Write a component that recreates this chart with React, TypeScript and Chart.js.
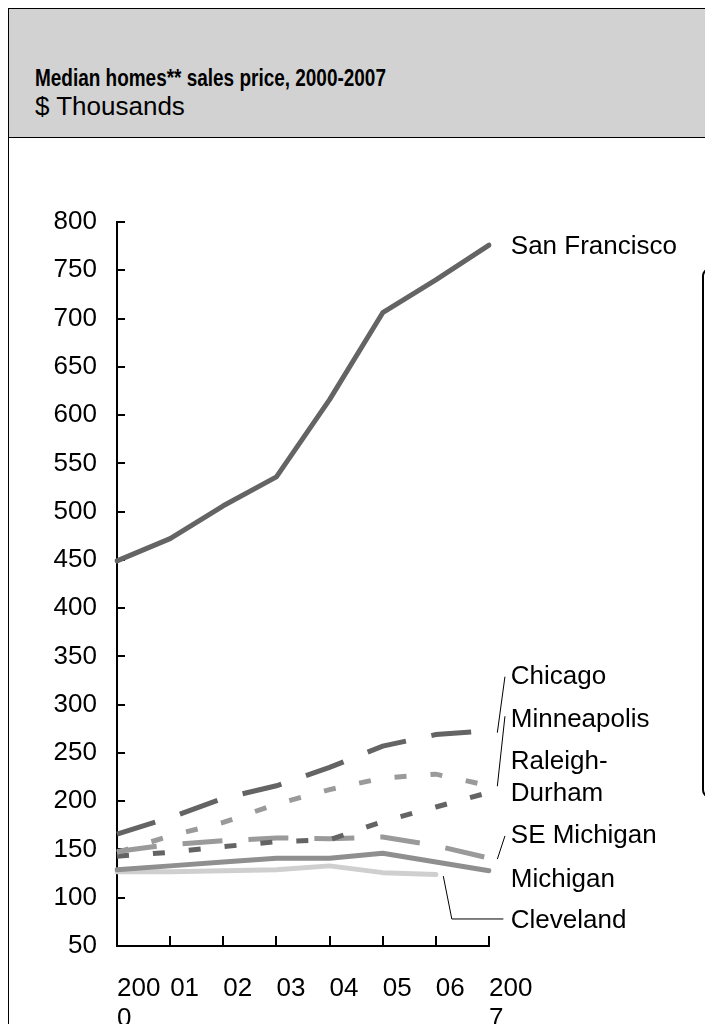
import React, { useEffect, useRef } from "react";
import { Chart, registerables } from "chart.js";

Chart.register(...registerables);

const FONT = '"Liberation Sans", Arial, Helvetica, sans-serif';

// ---- data ----
const years = ["2000", "2001", "2002", "2003", "2004", "2005", "2006", "2007"];
const xTickLabels: (string | string[])[] = [["200", "0"], "01", "02", "03", "04", "05", "06", ["200", "7"]];
const yMin = 50;
const yMax = 800;
const yStep = 50;

const sanFrancisco = [449, 472, 506, 536, 616, 706, 740, 776];
const chicago = [166, 183, 203, 216, 235, 257, 269, 273];
const minneapolis = [147, 164, 178, 197, 212, 224, 228, 216];
const raleighDurham = [143, 147, 153, 158, 160, 179, 194, 209];
const seMichigan = [148, 155, 159, 162, 161, 163, 154, 141];
const michigan = [129, 133, 137, 141, 141, 146, 137, 128];
const cleveland = [127, 127, 128, 129, 133, 126, 124, null];

// ---- annotations (label text and anchor values in data units) ----
const labelXIndex = 7.41;
const seriesLabels = [
  { text: ["San Francisco"], value: 774 },
  { text: ["Chicago"], value: 329 },
  { text: ["Minneapolis"], value: 284.5 },
  { text: ["Raleigh-", "Durham"], value: 224 },
  { text: ["SE Michigan"], value: 164 },
  { text: ["Michigan"], value: 119 },
  { text: ["Cleveland"], value: 76 },
];
const leaderLines: number[][][] = [
  [[7.3, 329], [7.157, 271]],
  [[7.3, 288], [7.157, 215.5]],
  [[7.3, 164], [7.157, 140]],
  [[6.14, 122.4], [6.3, 78], [7.27, 78]],
];

const labelsPlugin = {
  id: "seriesLabels",
  afterDraw(chart: any) {
    const { ctx } = chart;
    const x = chart.scales.x;
    const y = chart.scales.y;
    ctx.save();
    ctx.font = `26px ${FONT}`;
    ctx.fillStyle = "#000";
    ctx.textBaseline = "middle";
    ctx.textAlign = "left";
    const lx = x.getPixelForValue(labelXIndex);
    const lh = 32;
    seriesLabels.forEach((l) => {
      const cy = y.getPixelForValue(l.value);
      l.text.forEach((t, i) => {
        ctx.fillText(t, lx, cy + (i - (l.text.length - 1) / 2) * lh);
      });
    });
    ctx.strokeStyle = "#000";
    ctx.lineWidth = 1;
    leaderLines.forEach((pts) => {
      ctx.beginPath();
      pts.forEach(([xi, v], i) => {
        const px = x.getPixelForValue(xi);
        const py = y.getPixelForValue(v);
        if (i === 0) ctx.moveTo(px, py);
        else ctx.lineTo(px, py);
      });
      ctx.stroke();
    });
    ctx.restore();
  },
};

const DARK = "#646464";
const MID = "#9a9a9a";
const MICH = "#8f8f8f";
const LIGHT = "#cfcfcf";
const LONG_DASH = [40, 26];
const SHORT_DASH = [12, 24];

export default function App() {
  const ref = useRef<HTMLCanvasElement>(null);

  useEffect(() => {
    document.documentElement.style.overflow = "hidden";
    const base = { pointRadius: 0, borderWidth: 5, tension: 0, fill: false };
    const chart = new Chart(ref.current as HTMLCanvasElement, {
      type: "line",
      data: {
        labels: years,
        datasets: [
          { ...base, label: "San Francisco", data: sanFrancisco, borderColor: DARK, borderCapStyle: "round", borderJoinStyle: "round" },
          { ...base, label: "Chicago", data: chicago, borderColor: DARK, borderDash: LONG_DASH, borderCapStyle: "butt" },
          { ...base, label: "Minneapolis", data: minneapolis, borderColor: MID, borderDash: SHORT_DASH, borderCapStyle: "butt" },
          { ...base, label: "Raleigh-Durham", data: raleighDurham, borderColor: DARK, borderDash: SHORT_DASH, borderCapStyle: "butt" },
          { ...base, label: "SE Michigan", data: seMichigan, borderColor: MID, borderDash: LONG_DASH, borderCapStyle: "butt" },
          { ...base, label: "Michigan", data: michigan, borderColor: MICH, borderCapStyle: "round", borderJoinStyle: "round" },
          { ...base, label: "Cleveland", data: cleveland, borderColor: LIGHT, borderCapStyle: "round", borderJoinStyle: "round" },
        ],
      } as any,
      options: {
        responsive: false,
        animation: false,
        devicePixelRatio: 1,
        layout: { padding: { left: 0, top: 84, right: 216, bottom: 0 } },
        plugins: { legend: { display: false }, tooltip: { enabled: false }, title: { display: false } },
        scales: {
          x: {
            type: "category",
            offset: false,
            grid: { display: true, drawOnChartArea: false, tickLength: -10, color: "#000", lineWidth: 2, offset: false },
            border: { display: true, color: "#000", width: 2 },
            ticks: {
              align: "start",
              maxRotation: 0,
              autoSkip: false,
              padding: 38,
              color: "#000",
              font: { family: FONT, size: 26, lineHeight: 1.15 },
              callback: (_v: any, i: number) => xTickLabels[i],
            },
            afterFit: (s: any) => {
              s.height = 78;
            },
          },
          y: {
            min: yMin,
            max: yMax,
            grid: { display: true, drawOnChartArea: false, tickLength: -8, color: "#000", lineWidth: 2 },
            border: { display: true, color: "#000", width: 2 },
            ticks: { stepSize: yStep, padding: 28, color: "#000", font: { family: FONT, size: 26 } },
            afterFit: (s: any) => {
              s.width = 108;
            },
          },
        },
      } as any,
      plugins: [labelsPlugin],
    });
    return () => chart.destroy();
  }, []);

  return (
    <div
      style={{
        position: "fixed",
        left: 8,
        top: 8,
        width: 780,
        minWidth: 780,
        maxWidth: "none",
        height: 1100,
        border: "1px solid #000",
        boxSizing: "border-box",
        fontFamily: FONT,
        color: "#000",
        overflow: "visible",
      }}
    >
      <div style={{ height: 128, background: "#d2d2d2", borderBottom: "1px solid #000" }} />
      <div
        style={{
          position: "absolute",
          left: 26,
          top: 54,
          lineHeight: "30px",
          fontSize: 24,
          fontWeight: "bold",
          whiteSpace: "nowrap",
          transform: "scaleX(0.79)",
          transformOrigin: "0 50%",
        }}
      >
        Median homes** sales price, 2000-2007
      </div>
      <div style={{ position: "absolute", left: 26, top: 82, lineHeight: "30px", fontSize: 26, whiteSpace: "nowrap" }}>
        $ Thousands
      </div>
      <canvas
        ref={ref}
        width={696}
        height={886}
        style={{ position: "absolute", left: 0, top: 129, width: 696, height: 886, maxWidth: "none" }}
      />
      <div
        style={{
          position: "absolute",
          left: 693,
          top: 259,
          width: 100,
          height: 530,
          border: "2px solid #000",
          borderRadius: 8,
          boxSizing: "border-box",
        }}
      />
    </div>
  );
}
